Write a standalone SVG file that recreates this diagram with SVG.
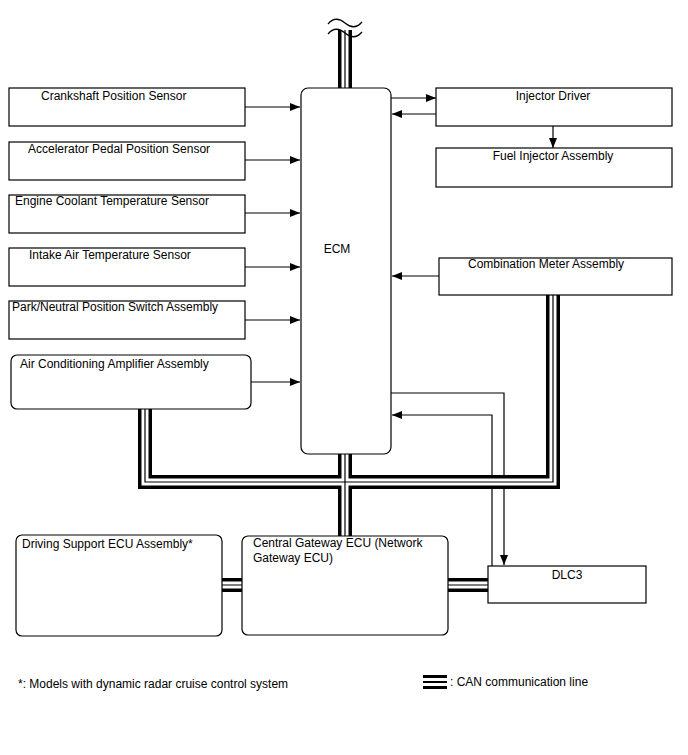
<svg xmlns="http://www.w3.org/2000/svg" width="688" height="755" viewBox="0 0 688 755">
<defs>
<marker id="ah" viewBox="0 0 10 8" refX="10" refY="4" markerWidth="10" markerHeight="8" markerUnits="userSpaceOnUse" orient="auto">
<path d="M0,0 L10,4 L0,8 Z" fill="#000"/>
</marker>
</defs>
<style>
.box{fill:#fff;stroke:#000;stroke-width:1.2}
.t{font-family:"Liberation Sans",Arial,sans-serif;font-size:12px;fill:#000}
.c{text-anchor:middle}
.ln{fill:none;stroke:#000;stroke-width:1.2}
.arr{fill:none;stroke:#000;stroke-width:1.2;marker-end:url(#ah)}
.b1{fill:none;stroke:#000;stroke-width:14;stroke-linejoin:miter}
.b2{fill:none;stroke:#fff;stroke-width:7;stroke-linejoin:miter}
.b3{fill:none;stroke:#000;stroke-width:1.2;stroke-linejoin:miter}
</style>
<rect width="688" height="755" fill="#fff"/>
<g id="connectors">
<line class="arr" x1="245" y1="107" x2="300" y2="107"/>
<line class="arr" x1="245" y1="160" x2="300" y2="160"/>
<line class="arr" x1="245" y1="213" x2="300" y2="213"/>
<line class="arr" x1="245" y1="267" x2="300" y2="267"/>
<line class="arr" x1="245" y1="320" x2="300" y2="320"/>
<line class="arr" x1="251" y1="382" x2="300" y2="382"/>
<line class="arr" x1="391" y1="98" x2="436" y2="98"/>
<line class="arr" x1="436" y1="114" x2="392" y2="114"/>
<line class="arr" x1="553" y1="126" x2="553" y2="148"/>
<line class="arr" x1="439" y1="276" x2="392" y2="276"/>
<polyline class="arr" points="391,393 504,393 504,565"/>
<polyline class="arr" points="492,566 492,415 392,415"/>
</g>
<g id="can-bus">
<path class="b1" d="M345,30 V88 M345,454 V536 M145,409 V482 H345 M553,295 V482 H345 M222,585 H242 M448,585 H488"/>
<path class="b2" d="M345,30 V88 M345,454 V536 M145,409 V482 H345 M553,295 V482 H345 M222,585 H242 M448,585 H488"/>
<path class="b3" d="M345,30 V88 M345,454 V536 M145,409 V482 H345 M553,295 V482 H345 M222,585 H242 M448,585 H488"/>
<path class="ln" d="M328,24 c5,-6 11,-6 17,-1 s12,5 17,-1 M328,34 c5,-6 11,-6 17,-1 s12,5 17,-1"/>
</g>
<g id="ecm"><rect class="box" x="301" y="88" width="90" height="366" rx="7"/><text class="t c" x="337" y="253">ECM</text></g>
<g id="crankshaft"><rect class="box" x="9" y="88" width="236" height="38"/><text class="t" x="41" y="100">Crankshaft Position Sensor</text></g>
<g id="accelerator"><rect class="box" x="9" y="142" width="236" height="38"/><text class="t" x="28" y="153">Accelerator Pedal Position Sensor</text></g>
<g id="coolant"><rect class="box" x="9" y="195" width="236" height="38"/><text class="t" x="15" y="205">Engine Coolant Temperature Sensor</text></g>
<g id="intake"><rect class="box" x="9" y="248" width="236" height="38"/><text class="t" x="29" y="259">Intake Air Temperature Sensor</text></g>
<g id="park"><rect class="box" x="9" y="301" width="236" height="38"/><text class="t" x="12" y="311">Park/Neutral Position Switch Assembly</text></g>
<g id="ac"><rect class="box" x="11" y="355" width="240" height="54" rx="6"/><text class="t" x="20" y="368">Air Conditioning Amplifier Assembly</text></g>
<g id="injector-driver"><rect class="box" x="436" y="88" width="236" height="38"/><text class="t c" x="553" y="100">Injector Driver</text></g>
<g id="fuel-injector"><rect class="box" x="436" y="148" width="236" height="39"/><text class="t c" x="553" y="160">Fuel Injector Assembly</text></g>
<g id="combination-meter"><rect class="box" x="439" y="258" width="233" height="37"/><text class="t" x="468" y="268">Combination Meter Assembly</text></g>
<g id="driving-support"><rect class="box" x="16" y="535" width="206" height="101" rx="6"/><text class="t" x="22" y="548">Driving Support ECU Assembly*</text></g>
<g id="gateway"><rect class="box" x="242" y="536" width="206" height="99" rx="6"/><text class="t" x="253" y="547">Central Gateway ECU (Network</text><text class="t" x="253" y="562">Gateway ECU)</text></g>
<g id="dlc3"><rect class="box" x="488" y="566" width="158" height="37"/><text class="t c" x="567" y="579">DLC3</text></g>
<g id="footnote"><text class="t" x="18" y="688">*: Models with dynamic radar cruise control system</text></g>
<g id="legend">
<rect x="423" y="675" width="24" height="3" fill="#000"/>
<rect x="423" y="681" width="24" height="2" fill="#000"/>
<rect x="423" y="686" width="24" height="3" fill="#000"/>
<text class="t" x="450" y="686">: CAN communication line</text>
</g>
</svg>
